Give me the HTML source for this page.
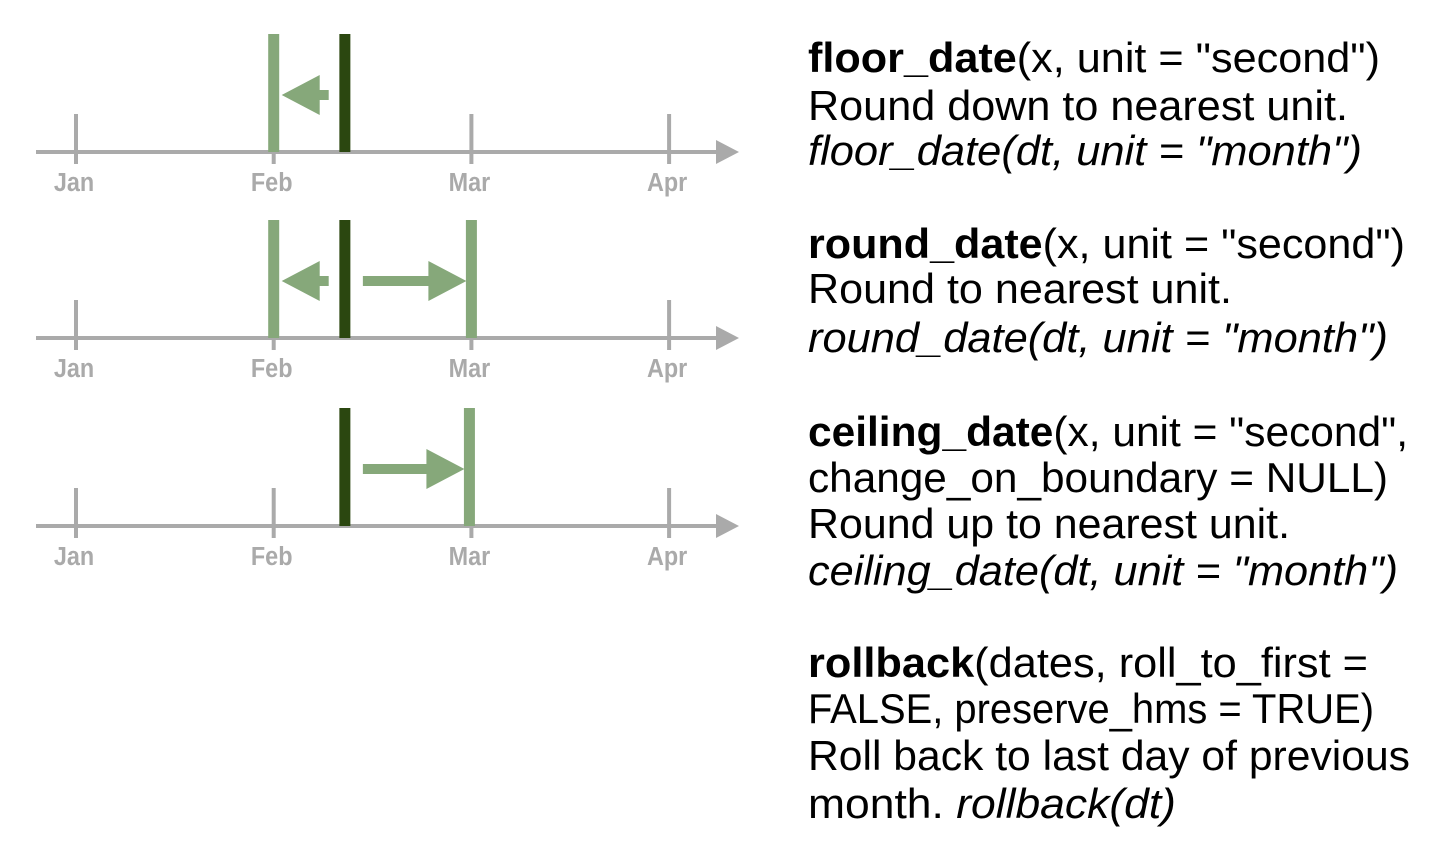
<!DOCTYPE html>
<html><head><meta charset="utf-8"><style>
html,body{margin:0;padding:0;background:#fff;width:1437px;height:862px;overflow:hidden}
svg text{font-family:"Liberation Sans",sans-serif}
</style></head><body>
<svg id="chart" width="1437" height="862" viewBox="0 0 1437 862" xmlns="http://www.w3.org/2000/svg">
<g id="panels"></g>
<g id="desc" font-size="42" fill="#000">
<text x="808" y="72" textLength="572" lengthAdjust="spacingAndGlyphs"><tspan font-weight="bold">floor_date</tspan>(x, unit = "second")</text>
<text x="808" y="120" textLength="540" lengthAdjust="spacingAndGlyphs">Round down to nearest unit.</text>
<text x="808" y="165" textLength="554" lengthAdjust="spacingAndGlyphs" font-style="italic">floor_date(dt, unit = "month")</text>
<text x="808" y="258" textLength="597" lengthAdjust="spacingAndGlyphs"><tspan font-weight="bold">round_date</tspan>(x, unit = "second")</text>
<text x="808" y="303" textLength="424" lengthAdjust="spacingAndGlyphs">Round to nearest unit.</text>
<text x="808" y="352" textLength="580" lengthAdjust="spacingAndGlyphs" font-style="italic">round_date(dt, unit = "month")</text>
<text x="808" y="446" textLength="600" lengthAdjust="spacingAndGlyphs"><tspan font-weight="bold">ceiling_date</tspan>(x, unit = "second",</text>
<text x="808" y="492" textLength="580" lengthAdjust="spacingAndGlyphs">change_on_boundary = NULL)</text>
<text x="808" y="538" textLength="482" lengthAdjust="spacingAndGlyphs">Round up to nearest unit.</text>
<text x="808" y="585" textLength="590" lengthAdjust="spacingAndGlyphs" font-style="italic">ceiling_date(dt, unit = "month")</text>
<text x="808" y="677" textLength="560" lengthAdjust="spacingAndGlyphs"><tspan font-weight="bold">rollback</tspan>(dates, roll_to_first =</text>
<text x="808" y="723" textLength="566" lengthAdjust="spacingAndGlyphs">FALSE, preserve_hms = TRUE)</text>
<text x="808" y="770" textLength="602" lengthAdjust="spacingAndGlyphs">Roll back to last day of previous</text>
<text x="808" y="818" textLength="368" lengthAdjust="spacingAndGlyphs">month. <tspan font-style="italic">rollback(dt)</tspan></text>
</g>
</svg>
<script>
const monthLabels = ["Jan","Feb","Mar","Apr"];
const dtValue = 1.36;            // input date in month units (Jan=0)
const panelNames = ["floor","round","ceiling"];
const floorTargets = [1, 1, null];
const ceilTargets = [null, 2, 1.99];
const axisYs = [152, 338, 526];

const NS = "http://www.w3.org/2000/svg";
const xScale = m => 76 + m * 197.7;
const LIGHT = "#86a87a", DARK = "#2b4710", GRAY = "#aaaaaa";
const root = document.getElementById("panels");
function mk(tag, attrs, parent){const e=document.createElementNS(NS,tag);for(const k in attrs)e.setAttribute(k,attrs[k]);(parent||root).appendChild(e);return e;}

panelNames.forEach((name, i) => {
  const y = axisYs[i];
  const g = mk("g", {});
  
  
  const axis = mk("line", {x1:36, y1:y, x2:718, y2:y, stroke:GRAY, "stroke-width":4}, g);
  
  
  const head = mk("polygon", {points:`716,${y-12} 739,${y} 716,${y+12}`, fill:GRAY}, g);
  
  
  monthLabels.forEach((lab, m) => {
    const x = xScale(m);
    const t = mk("line", {x1:x, y1:y-38, x2:x, y2:y+12, stroke:GRAY, "stroke-width":4}, g);
    
    
    const tx = mk("text", {x:x-2, y:y+39, "text-anchor":"middle", "font-size":26, "font-weight":"bold", fill:GRAY, transform:`translate(${(x-2)*0.1},0) scale(0.9,1)`}, g);
    tx.textContent = lab;
    
    
  });
  const top = y - 118, mid = y - 57;
  const xd = xScale(dtValue);
  const f = floorTargets[i], c = ceilTargets[i];
  if (f !== null) {
    const xf = xScale(f);
    const b = mk("rect", {x:xf-5.5, y:top, width:11, height:118, fill:LIGHT}, g);
    
    
    const a = mk("polygon", {points:`${xf+8},${mid} ${xf+46},${mid-20} ${xf+46},${mid-5} ${xf+55},${mid-5} ${xf+55},${mid+5} ${xf+46},${mid+5} ${xf+46},${mid+20}`, fill:LIGHT}, g);
    
    
  }
  if (c !== null) {
    const xc = xScale(c);
    const b = mk("rect", {x:xc-5.5, y:top, width:11, height:118, fill:LIGHT}, g);
    
    
    const s = xd + 18, hb = xc - 43, tip = xc - 5;
    const a = mk("polygon", {points:`${s},${mid-5} ${hb},${mid-5} ${hb},${mid-20} ${tip},${mid} ${hb},${mid+20} ${hb},${mid+5} ${s},${mid+5}`, fill:LIGHT}, g);
    
    
  }
  const d = mk("rect", {x:xd-5.5, y:top, width:11, height:118, fill:DARK}, g);
  
  
});
</script>
</body></html>
